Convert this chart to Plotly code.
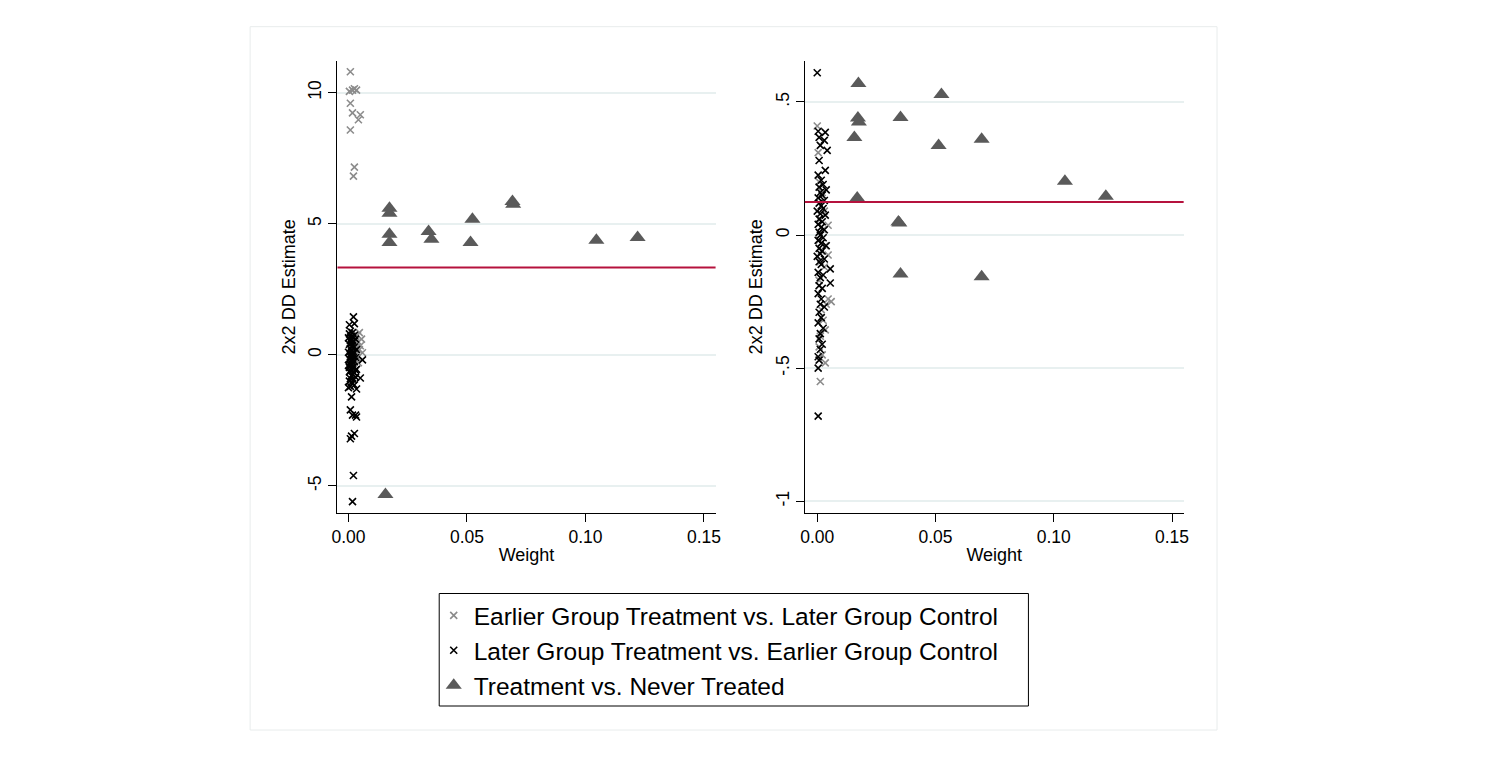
import plotly.graph_objects as go

# ---------------- data ----------------
# Left panel
L_early_w = [0.0008, 0.0004, 0.0017, 0.0025, 0.0034, 0.0008, 0.0017, 0.0050, 0.0042, 0.0008, 0.0025, 0.0021,
             0.0046, 0.0038, 0.0030, 0.0055, 0.0042, 0.0025, 0.0050, 0.0034, 0.0059, 0.0046, 0.0021, 0.0038,
             0.0013, 0.0030, 0.0042, 0.0025]
L_early_y = [10.8, 10.05, 10.1, 10.15, 10.1, 9.6, 9.23, 9.16, 8.97, 8.58, 7.16, 6.82,
             0.85, 0.75, 0.70, 0.60, 0.50, 0.45, 0.35, 0.30, 0.08, 0.20, 0.15, -0.10,
             0.55, 0.00, -0.30, -0.50]

L_later_w = [0.0021, 0.0004, 0.0025, 0.0059, 0.0050, 0.0013, 0.0008, 0.0017, 0.0034, 0.0030, 0.0013, 0.0025,
             0.0008, 0.0021, 0.0017,
             0.0008, 0.0017, 0.0004, 0.0025, 0.0013, 0.0000, 0.0030, 0.0008, 0.0021, 0.0013,
             0.0004, 0.0017, 0.0025, 0.0008, 0.0034, 0.0013, 0.0000, 0.0021, 0.0008, 0.0017,
             0.0030, 0.0004, 0.0013, 0.0025, 0.0008, 0.0017, 0.0000, 0.0021, 0.0013, 0.0034,
             0.0008, 0.0004, 0.0025, 0.0017, 0.0013, 0.0030, 0.0008, 0.0021, 0.0004, 0.0013,
             0.0017, 0.0025, 0.0008, 0.0000, 0.0034, 0.0013, 0.0021, 0.0008, 0.0017, 0.0004,
             0.0025, 0.0013, 0.0008, 0.0030, 0.0017]
L_later_y = [1.45, 1.15, 1.19, -0.19, -0.88, -1.60, -2.10, -2.30, -2.37, -2.30, -3.10, -3.00,
             -3.20, -4.60, -5.60,
             0.90, 0.85, 0.80, 0.75, 0.70, 0.65, 0.60, 0.55, 0.50, 0.45,
             0.40, 0.35, 0.30, 0.25, 0.20, 0.15, 0.10, 0.05, 0.00, -0.05,
             -0.10, -0.15, -0.20, -0.25, -0.30, -0.35, -0.40, -0.45, -0.50, -0.55,
             -0.60, -0.65, -0.70, -0.75, -0.80, -0.85, -0.90, -0.95, -1.00, -1.05,
             -1.10, -1.15, -1.20, -1.25, -1.30, 0.32, 0.12, -0.08, -0.28, -0.48,
             -0.68, 0.62, -0.38, -0.58, 0.02]

L_never_w = [0.0173, 0.0173, 0.0173, 0.0173, 0.0338, 0.0350, 0.0515, 0.0523, 0.0692, 0.0695, 0.1046, 0.1220, 0.0156]
L_never_y = [5.59, 5.40, 4.60, 4.29, 4.71, 4.41, 4.29, 5.17, 5.85, 5.75, 4.37, 4.48, -5.33]

L_overall = 3.33

# Right panel
R_early_w = [0.0000, 0.0004, 0.0008, 0.0021, 0.0030, 0.0013, 0.0046, 0.0025, 0.0008, 0.0034, 0.0017, 0.0046,
             0.0013, 0.0030, 0.0008, 0.0046, 0.0059, 0.0038, 0.0017, 0.0025, 0.0034, 0.0013, 0.0008, 0.0034,
             0.0013, 0.0021]
R_early_y = [0.41, 0.31, 0.20, 0.16, 0.09, 0.06, 0.037, 0.02, -0.02, -0.04, -0.06, -0.075,
             -0.10, -0.12, -0.17, -0.24, -0.25, -0.26, -0.28, -0.32, -0.356, -0.38, -0.42, -0.48,
             -0.55, -0.45]

R_later_w = [0.0000, 0.0004, 0.0034, 0.0008, 0.0030, 0.0013, 0.0042, 0.0008, 0.0034, 0.0004, 0.0017, 0.0025,
             0.0008, 0.0038, 0.0013, 0.0021, 0.0004, 0.0030, 0.0008, 0.0017, 0.0025, 0.0000, 0.0013, 0.0034,
             0.0008, 0.0021, 0.0004, 0.0017, 0.0030, 0.0008, 0.0013, 0.0025, 0.0004, 0.0017, 0.0038, 0.0008,
             0.0021, 0.0013, 0.0000, 0.0030, 0.0008, 0.0017, 0.0055, 0.0004, 0.0025, 0.0013, 0.0055, 0.0008,
             0.0021, 0.0004, 0.0017, 0.0013, 0.0030, 0.0008, 0.0017, 0.0004, 0.0025, 0.0013, 0.0008, 0.0021,
             0.0013, 0.0004, 0.0008, 0.0004, 0.0004]
R_later_y = [0.61, 0.39, 0.386, 0.367, 0.356, 0.337, 0.318, 0.28, 0.243, 0.225, 0.206, 0.19,
             0.18, 0.17, 0.16, 0.15, 0.14, 0.13, 0.12, 0.11, 0.10, 0.09, 0.08, 0.075,
             0.06, 0.05, 0.04, 0.03, 0.02, 0.01, 0.00, -0.01, -0.02, -0.03, -0.04, -0.05,
             -0.06, -0.07, -0.08, -0.09, -0.10, -0.11, -0.127, -0.14, -0.15, -0.16, -0.18, -0.19,
             -0.20, -0.22, -0.24, -0.26, -0.27, -0.29, -0.31, -0.33, -0.35, -0.37, -0.39, -0.41,
             -0.43, -0.457, -0.47, -0.50, -0.68]

R_never_w = [0.0174, 0.0525, 0.0172, 0.0176, 0.0352, 0.0157, 0.0513, 0.0695, 0.1047, 0.1220, 0.0169,
             0.0343, 0.0347, 0.0352, 0.0695]
R_never_y = [0.569, 0.528, 0.440, 0.425, 0.442, 0.367, 0.337, 0.360, 0.202, 0.146, 0.139,
             0.049, 0.045, -0.146, -0.157]

R_overall = 0.124

x_tickvals = [0.0, 0.05, 0.10, 0.15]
x_ticktext = ["0.00", "0.05", "0.10", "0.15"]
L_y_tickvals = [10, 5, 0, -5]
L_y_ticktext = ["10", "5", "0", "-5"]
R_y_tickvals = [0.5, 0, -0.5, -1]
R_y_ticktext = [".5", "0", "-.5", "-1"]

names = ["Earlier Group Treatment vs. Later Group Control",
         "Later Group Treatment vs. Earlier Group Control",
         "Treatment vs. Never Treated"]

# ---------------- figure ----------------
FONT = "Liberation Sans, Arial, sans-serif"
GRAY_X = "#8c8c8c"
TRI = "#5a5a5a"
RED = "#b5123d"
GRID = "#e8f0f0"

# page body has an 8px margin; size the figure so it fills the window
OFF = 8
W, H = 1486 - 2 * OFF, 757 - 2 * OFF
XS = 0.993  # small horizontal compensation observed in rendering


def px(x):
    return ((x - 733) / XS + 733 - OFF) / W


def py(y):
    return 1 - (y - OFF) / H


fig = go.Figure()


def add_panel(xa, ya, ew, ey, lw, ly, nw, ny, show):
    fig.add_trace(go.Scatter(x=ew, y=ey, mode="markers", name=names[0], xaxis=xa, yaxis=ya,
                             showlegend=show, legendgroup="a",
                             marker=dict(symbol="x-thin", size=7, color=GRAY_X,
                                         line=dict(color=GRAY_X, width=1.6))))
    fig.add_trace(go.Scatter(x=lw, y=ly, mode="markers", name=names[1], xaxis=xa, yaxis=ya,
                             showlegend=show, legendgroup="b",
                             marker=dict(symbol="x-thin", size=7, color="black",
                                         line=dict(color="black", width=1.6))))
    fig.add_trace(go.Scatter(x=nw, y=ny, mode="markers", name=names[2], xaxis=xa, yaxis=ya,
                             showlegend=show, legendgroup="c",
                             marker=dict(symbol="triangle-up", size=14, color=TRI,
                                         line=dict(width=0))))


add_panel("x", "y", L_early_w, L_early_y, L_later_w, L_later_y, L_never_w, L_never_y, True)
add_panel("x2", "y2", R_early_w, R_early_y, R_later_w, R_later_y, R_never_w, R_never_y, False)

ydom = [py(512.7), py(61)]

xaxis_common = dict(tickvals=x_tickvals, ticktext=x_ticktext,
                    showline=True, linecolor="black", linewidth=1.2, ticks="outside", ticklen=8,
                    tickcolor="black", showgrid=False, zeroline=False,
                    tickfont=dict(family=FONT, size=17.5, color="black"),
                    title=dict(text="Weight", font=dict(family=FONT, size=18, color="black"), standoff=2))
yaxis_common = dict(showline=True, linecolor="black", linewidth=1.2, ticks="outside", ticklen=8,
                    tickcolor="black", showgrid=True, gridcolor=GRID, gridwidth=1.6, zeroline=False,
                    tickangle=-90, tickfont=dict(family=FONT, size=17.5, color="black"),
                    title=dict(text="2x2 DD Estimate", font=dict(family=FONT, size=18, color="black"),
                               standoff=5))

fig.update_layout(
    width=W, height=H, margin=dict(l=0, r=0, t=0, b=0),
    paper_bgcolor="white", plot_bgcolor="white",
    xaxis=dict(domain=[px(336.7), px(715)], anchor="y", range=[-0.00464, 0.1549], **xaxis_common),
    yaxis=dict(domain=ydom, anchor="x", range=[-6.02, 11.21], tickvals=L_y_tickvals,
               ticktext=L_y_ticktext, **yaxis_common),
    xaxis2=dict(domain=[px(804.3), px(1183.3)], anchor="y2", range=[-0.00524, 0.1549], **xaxis_common),
    yaxis2=dict(domain=ydom, anchor="x2", range=[-1.043, 0.654], tickvals=R_y_tickvals,
                ticktext=R_y_ticktext, **yaxis_common),
    legend=dict(x=px(433), xanchor="left", y=py(593), yanchor="top",
                borderwidth=0, bgcolor="rgba(0,0,0,0)",
                font=dict(family=FONT, size=24.5, color="black"), tracegroupgap=0,
                itemsizing="trace"),
    shapes=[
        dict(type="rect", xref="paper", yref="paper", x0=px(249.3), x1=px(1216.7), y0=py(730), y1=py(26.7),
             line=dict(color="#e8ecec", width=1), layer="below"),
        dict(type="rect", xref="paper", yref="paper", x0=px(438.5), x1=px(1028), y0=py(706), y1=py(593.5),
             line=dict(color="black", width=1), fillcolor="rgba(0,0,0,0)", layer="above"),
        dict(type="line", xref="x domain", yref="y", x0=0, x1=1, y0=L_overall, y1=L_overall,
             line=dict(color=RED, width=2)),
        dict(type="line", xref="x2 domain", yref="y2", x0=0, x1=1, y0=R_overall, y1=R_overall,
             line=dict(color=RED, width=2)),
    ],
)

fig.write_html("out.html")
